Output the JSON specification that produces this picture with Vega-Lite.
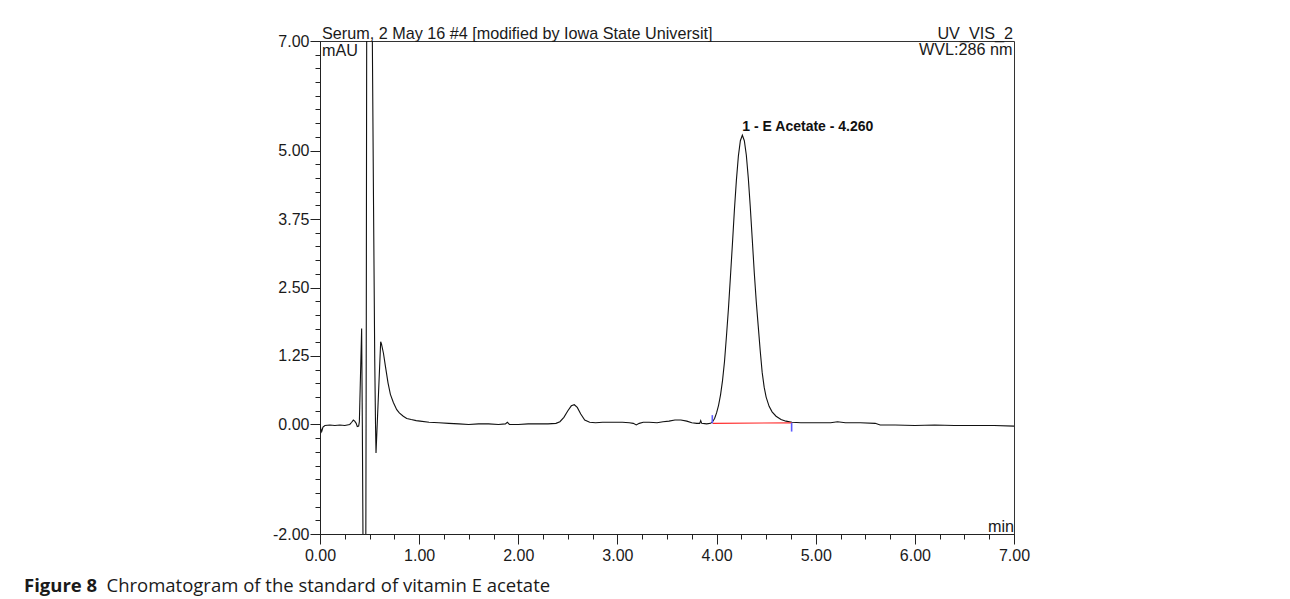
{
  "$schema": "https://vega.github.io/schema/vega-lite/v6.json",
  "width": 694,
  "height": 493,
  "autosize": {"type": "none"},
  "padding": {"left": 320, "top": 41, "right": 276, "bottom": 65},
  "background": "white",
  "config": {
    "view": {"stroke": "#333", "strokeWidth": 1},
    "axis": {"grid": false, "labelFont": "Liberation Sans", "labelFontSize": 16, "labelColor": "#1a1a1a", "tickColor": "#222", "domainColor": "#222", "labelFlush": false, "labelOverlap": false}
  },
  "title": {
    "text": "Figure 8",
    "orient": "bottom",
    "anchor": "start",
    "frame": "group",
    "dx": -296,
    "offset": -3.7,
    "baseline": "alphabetic",
    "font": "Open Sans",
    "fontSize": 18.5,
    "fontWeight": "bold",
    "color": "#1a1a1a"
  },
  "resolve": {"axis": {"x": "independent", "y": "independent"}},
  "layer": [
    {
      "data": {"values": [
        {"time": 0.0, "signal": 0.0}, {"time": 0.008, "signal": -0.08}, {"time": 0.017, "signal": -0.13}, {"time": 0.03, "signal": -0.05},
        {"time": 0.05, "signal": -0.02}, {"time": 0.1, "signal": -0.01}, {"time": 0.15, "signal": -0.02}, {"time": 0.2, "signal": -0.01},
        {"time": 0.25, "signal": -0.02}, {"time": 0.3, "signal": 0.0}, {"time": 0.32, "signal": 0.04}, {"time": 0.336, "signal": 0.08},
        {"time": 0.35, "signal": 0.06}, {"time": 0.365, "signal": 0.02}, {"time": 0.376, "signal": -0.04}, {"time": 0.39, "signal": -0.03},
        {"time": 0.397, "signal": 0.05}, {"time": 0.42, "signal": 1.75}, {"time": 0.427, "signal": 0.0}, {"time": 0.434, "signal": -2.2},
        {"time": 0.44, "signal": -6}, {"time": 0.45, "signal": -8}, {"time": 0.458, "signal": -5}, {"time": 0.463, "signal": -1.5},
        {"time": 0.467, "signal": 2}, {"time": 0.471, "signal": 7.2}, {"time": 0.48, "signal": 12}, {"time": 0.5, "signal": 14},
        {"time": 0.515, "signal": 11}, {"time": 0.528, "signal": 7}, {"time": 0.54, "signal": 4}, {"time": 0.552, "signal": 1.2},
        {"time": 0.56, "signal": 0.0}, {"time": 0.565, "signal": -0.52}, {"time": 0.612, "signal": 1.51}, {"time": 0.62, "signal": 1.47},
        {"time": 0.64, "signal": 1.3}, {"time": 0.66, "signal": 1.06}, {"time": 0.686, "signal": 0.76}, {"time": 0.71, "signal": 0.55},
        {"time": 0.74, "signal": 0.4}, {"time": 0.774, "signal": 0.27}, {"time": 0.8, "signal": 0.21}, {"time": 0.84, "signal": 0.15},
        {"time": 0.875, "signal": 0.11}, {"time": 0.92, "signal": 0.09}, {"time": 0.97, "signal": 0.07}, {"time": 1.01, "signal": 0.06},
        {"time": 1.1, "signal": 0.04}, {"time": 1.2, "signal": 0.03}, {"time": 1.3, "signal": 0.02}, {"time": 1.4, "signal": 0.01},
        {"time": 1.5, "signal": 0.0}, {"time": 1.6, "signal": 0.01}, {"time": 1.7, "signal": 0.01}, {"time": 1.8, "signal": 0.0},
        {"time": 1.87, "signal": 0.01}, {"time": 1.89, "signal": 0.04}, {"time": 1.91, "signal": 0.0}, {"time": 2.0, "signal": 0.0},
        {"time": 2.1, "signal": 0.01}, {"time": 2.2, "signal": 0.01}, {"time": 2.3, "signal": 0.01}, {"time": 2.38, "signal": 0.02},
        {"time": 2.42, "signal": 0.05}, {"time": 2.46, "signal": 0.13}, {"time": 2.5, "signal": 0.25}, {"time": 2.535, "signal": 0.34},
        {"time": 2.565, "signal": 0.36}, {"time": 2.595, "signal": 0.31}, {"time": 2.63, "signal": 0.19}, {"time": 2.67, "signal": 0.08},
        {"time": 2.72, "signal": 0.04}, {"time": 2.78, "signal": 0.03}, {"time": 2.85, "signal": 0.04}, {"time": 2.95, "signal": 0.04},
        {"time": 3.05, "signal": 0.04}, {"time": 3.12, "signal": 0.03}, {"time": 3.16, "signal": 0.02}, {"time": 3.19, "signal": -0.01},
        {"time": 3.22, "signal": 0.02}, {"time": 3.26, "signal": 0.04}, {"time": 3.32, "signal": 0.04}, {"time": 3.4, "signal": 0.03},
        {"time": 3.46, "signal": 0.05}, {"time": 3.52, "signal": 0.06}, {"time": 3.58, "signal": 0.08}, {"time": 3.64, "signal": 0.08},
        {"time": 3.7, "signal": 0.06}, {"time": 3.75, "signal": 0.03}, {"time": 3.8, "signal": 0.02}, {"time": 3.83, "signal": 0.02},
        {"time": 3.84, "signal": 0.07}, {"time": 3.85, "signal": 0.02}, {"time": 3.9, "signal": 0.01}, {"time": 3.94, "signal": 0.02},
        {"time": 3.96, "signal": 0.05}, {"time": 3.98, "signal": 0.11}, {"time": 4.0, "signal": 0.21}, {"time": 4.02, "signal": 0.35},
        {"time": 4.04, "signal": 0.54}, {"time": 4.06, "signal": 0.8}, {"time": 4.08, "signal": 1.15}, {"time": 4.1, "signal": 1.62},
        {"time": 4.12, "signal": 2.12}, {"time": 4.14, "signal": 2.7}, {"time": 4.16, "signal": 3.3}, {"time": 4.18, "signal": 3.92},
        {"time": 4.2, "signal": 4.46}, {"time": 4.22, "signal": 4.9}, {"time": 4.24, "signal": 5.18}, {"time": 4.26, "signal": 5.28},
        {"time": 4.28, "signal": 5.18}, {"time": 4.3, "signal": 4.92}, {"time": 4.32, "signal": 4.5}, {"time": 4.34, "signal": 3.97},
        {"time": 4.36, "signal": 3.38}, {"time": 4.38, "signal": 2.78}, {"time": 4.4, "signal": 2.25}, {"time": 4.42, "signal": 1.8},
        {"time": 4.44, "signal": 1.35}, {"time": 4.46, "signal": 0.95}, {"time": 4.48, "signal": 0.68}, {"time": 4.5, "signal": 0.5},
        {"time": 4.53, "signal": 0.33}, {"time": 4.56, "signal": 0.23}, {"time": 4.6, "signal": 0.15}, {"time": 4.65, "signal": 0.09},
        {"time": 4.7, "signal": 0.06}, {"time": 4.76, "signal": 0.04}, {"time": 4.85, "signal": 0.03}, {"time": 4.95, "signal": 0.03},
        {"time": 5.05, "signal": 0.03}, {"time": 5.15, "signal": 0.03}, {"time": 5.22, "signal": 0.05}, {"time": 5.3, "signal": 0.03},
        {"time": 5.45, "signal": 0.03}, {"time": 5.6, "signal": 0.02}, {"time": 5.65, "signal": -0.01}, {"time": 5.8, "signal": -0.01},
        {"time": 6.0, "signal": -0.02}, {"time": 6.2, "signal": -0.01}, {"time": 6.4, "signal": -0.02}, {"time": 6.6, "signal": -0.02},
        {"time": 6.8, "signal": -0.02}, {"time": 7.0, "signal": -0.03}
      ]},
      "mark": {"type": "line", "color": "#111", "strokeWidth": 1.1, "clip": true},
      "encoding": {
        "x": {"field": "time", "type": "quantitative",
          "scale": {"domain": [0, 7], "nice": false, "zero": false},
          "axis": {"orient": "bottom", "values": [0, 1, 2, 3, 4, 5, 6, 7], "format": ".2f", "tickSize": 10, "labelPadding": 3,
            "title": "Chromatogram of the standard of vitamin E acetate", "titleFont": "Open Sans", "titleFontSize": 18.5,
            "titleFontWeight": "normal", "titleColor": "#1a1a1a", "titleX": -214, "titleY": 57.7, "titleAlign": "left",
            "titleBaseline": "alphabetic", "titleAngle": 0}},
        "y": {"field": "signal", "type": "quantitative",
          "scale": {"domain": [-2, 7], "nice": false, "zero": false},
          "axis": {"orient": "left", "values": [-2, 0, 1.25, 2.5, 3.75, 5, 7], "tickSize": 10, "labelPadding": 1, "title": null,
            "labelExpr": "datum.value < 0 ? '-' + format(-datum.value, '.2f') : format(datum.value, '.2f')"}}
      }
    },
    {
      "data": {"values": [{"t1": 3.96, "s1": 0.02, "t2": 4.757, "s2": 0.03}]},
      "mark": {"type": "rule", "color": "#ff2a2a", "strokeWidth": 1.2},
      "encoding": {
        "x": {"field": "t1", "type": "quantitative",
          "axis": {"orient": "bottom", "values": [0,0.25,0.5,0.75,1,1.25,1.5,1.75,2,2.25,2.5,2.75,3,3.25,3.5,3.75,4,4.25,4.5,4.75,5,5.25,5.5,5.75,6,6.25,6.5,6.75,7],
            "tickSize": 5, "labels": false, "domain": false, "title": null}},
        "x2": {"field": "t2"},
        "y": {"field": "s1", "type": "quantitative",
          "axis": {"orient": "left", "values": [-2,-1.75,-1.5,-1.25,-1,-0.75,-0.5,-0.25,0,0.25,0.5,0.75,1,1.25,1.5,1.75,2,2.25,2.5,2.75,3,3.25,3.5,3.75,4,4.25,4.5,4.75,5,5.25,5.5,5.75,6,6.25,6.5,6.75,7],
            "tickSize": 5, "labels": false, "domain": false, "title": null}},
        "y2": {"field": "s2"}
      }
    },
    {
      "data": {"values": [{"t": 3.957, "s1": 0.02, "s2": 0.17}, {"t": 4.757, "s1": 0.03, "s2": -0.13}]},
      "mark": {"type": "rule", "color": "#5c5cff", "strokeWidth": 1.6},
      "encoding": {
        "x": {"field": "t", "type": "quantitative", "axis": null},
        "y": {"field": "s1", "type": "quantitative", "axis": null},
        "y2": {"field": "s2"}
      }
    },
    {
      "data": {"values": [{"t": 0, "s": 7, "label": "Serum, 2 May 16 #4 [modified by Iowa State Universit]"}]},
      "mark": {"type": "text", "align": "left", "baseline": "alphabetic", "dx": 2, "dy": -2, "font": "Liberation Sans", "fontSize": 16.2, "color": "#1a1a1a"},
      "encoding": {
        "x": {"field": "t", "type": "quantitative", "axis": null},
        "y": {"field": "s", "type": "quantitative", "axis": null},
        "text": {"field": "label"}
      }
    },
    {
      "data": {"values": [{"t": 7, "s": 7, "label": "UV_VIS_2"}]},
      "mark": {"type": "text", "align": "right", "baseline": "alphabetic", "dx": -1, "dy": -2, "font": "Liberation Sans", "fontSize": 16.2, "color": "#1a1a1a"},
      "encoding": {
        "x": {"field": "t", "type": "quantitative", "axis": null},
        "y": {"field": "s", "type": "quantitative", "axis": null},
        "text": {"field": "label"}
      }
    },
    {
      "data": {"values": [{"t": 0, "s": 7, "label": "mAU"}]},
      "mark": {"type": "text", "align": "left", "baseline": "alphabetic", "dx": 2, "dy": 15, "font": "Liberation Sans", "fontSize": 16.2, "color": "#1a1a1a"},
      "encoding": {
        "x": {"field": "t", "type": "quantitative", "axis": null},
        "y": {"field": "s", "type": "quantitative", "axis": null},
        "text": {"field": "label"}
      }
    },
    {
      "data": {"values": [{"t": 7, "s": 7, "label": "WVL:286 nm"}]},
      "mark": {"type": "text", "align": "right", "baseline": "alphabetic", "dx": -1.5, "dy": 14, "font": "Liberation Sans", "fontSize": 16.2, "color": "#1a1a1a"},
      "encoding": {
        "x": {"field": "t", "type": "quantitative", "axis": null},
        "y": {"field": "s", "type": "quantitative", "axis": null},
        "text": {"field": "label"}
      }
    },
    {
      "data": {"values": [{"t": 7, "s": -2, "label": "min"}]},
      "mark": {"type": "text", "align": "right", "baseline": "alphabetic", "dx": 0, "dy": -2.5, "font": "Liberation Sans", "fontSize": 16.2, "color": "#1a1a1a"},
      "encoding": {
        "x": {"field": "t", "type": "quantitative", "axis": null},
        "y": {"field": "s", "type": "quantitative", "axis": null},
        "text": {"field": "label"}
      }
    },
    {
      "data": {"values": [{"t": 4.26, "s": 5.28, "label": "1 - E Acetate - 4.260"}]},
      "mark": {"type": "text", "align": "left", "baseline": "alphabetic", "dx": 0, "dy": -4, "font": "Liberation Sans", "fontSize": 14, "fontWeight": "bold", "color": "#111"},
      "encoding": {
        "x": {"field": "t", "type": "quantitative", "axis": null},
        "y": {"field": "s", "type": "quantitative", "axis": null},
        "text": {"field": "label"}
      }
    }
  ]
}
